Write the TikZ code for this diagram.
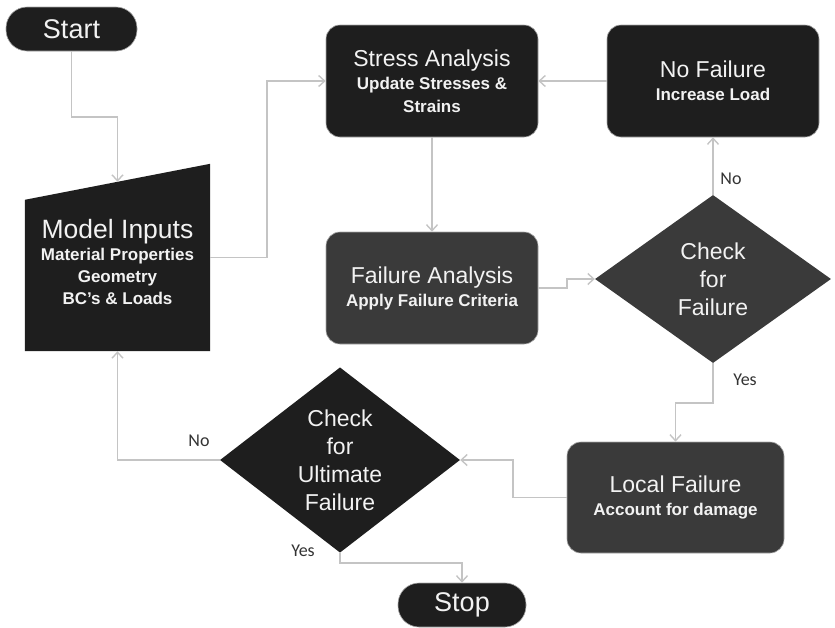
\documentclass[tikz,border=0pt]{standalone}
\usepackage{fontspec}
\setmainfont{Liberation Sans}
\newfontfamily\lblfont{Carlito}
\usetikzlibrary{shapes.geometric,arrows.meta,calc}
\definecolor{dk}{HTML}{1E1E1E}
\definecolor{md}{HTML}{3A3A3A}
\definecolor{ln}{HTML}{C4C4C4}
\definecolor{tx}{HTML}{F2F2F2}
\newcommand{\ttl}[1]{{\fontsize{23}{28}\selectfont\mdseries #1}}
\tikzset{
  x=1pt,y=-1pt,
  box/.style={rectangle,rounded corners=14,draw=gray!70,line width=0.6,minimum width=212,minimum height=112,inner sep=0,text=tx,align=center,font=\fontsize{17}{23}\selectfont\bfseries},
  term/.style={rectangle,rounded corners=21,draw=gray!70,line width=0.6,fill=dk,inner sep=0,text=tx,font=\fontsize{27}{30}\selectfont,minimum height=44},
  dec/.style={diamond,inner sep=0,text=tx,align=center,font=\fontsize{23}{28}\selectfont},
  conn/.style={draw=ln,line width=1.6,-{Straight Barb[length=6,width=11,line width=1.4]}},
  lbl/.style={text=black!80,font=\lblfont\fontsize{18}{20}\selectfont,inner sep=0}
}
\begin{document}
\begin{tikzpicture}
\useasboundingbox (0,0) rectangle (835,627);
% nodes
\node[term,minimum width=131] (start) at (71.5,29) {Start};
\node[term,minimum width=128] (stop) at (462,605) {Stop};
\node[rectangle,minimum width=185,minimum height=187,inner sep=0] (mi) at (117.5,257.5) {};
\fill[dk] (mi.south west) -- (mi.south east) -- (mi.north east) -- ($(mi.north west)+(0,36)$) -- cycle;
\coordinate (mitop) at ($(mi.north)+(0,18)$);
\node[text=tx,align=center,font=\fontsize{17}{22}\selectfont\bfseries] (mitext) at (117.5,262)
  {{\fontsize{26.5}{27}\selectfont\mdseries Model Inputs}\\Material Properties\\Geometry\\BC's \& Loads};
\node[box,fill=dk] (stress) at (432,81) {\ttl{Stress Analysis}\\Update Stresses \&\\Strains};
\node[box,fill=dk] (nofail) at (713,81) {\ttl{No Failure}\\Increase Load};
\node[box,fill=md] (fa) at (432,288) {\ttl{Failure Analysis}\\Apply Failure Criteria};
\node[box,fill=md,minimum width=217,minimum height=111] (lf) at (675.5,497.5) {\ttl{Local Failure}\\Account for damage};
\node[dec,fill=md,minimum width=236,minimum height=168] (chk) at (713,279) {Check\\for\\Failure};
\node[dec,fill=dk,minimum width=240,minimum height=170] (ult) at (340,460) {Check\\for\\Ultimate\\Failure};
% connectors
\draw[conn] (start.south) -- (start.south |- 0,117) -| (mitop);
\draw[conn] (mi.east) -- (267,257.5) |- (stress.west);
\draw[conn] (nofail.west) -- (stress.east);
\draw[conn] (stress.south) -- (fa.north);
\draw[conn] (fa.east) -- (567,288) |- (chk.west);
\draw[conn] (chk.north) -- (nofail.south);
\draw[conn] (chk.south) -- (713,403) -| (lf.north);
\draw[conn] (lf.west) -- (513,497.5) |- (ult.east);
\draw[conn] (ult.west) -| (mi.south);
\draw[conn] (ult.south) -- (340,563) -| (stop.north);
% labels
\node[lbl] (lno1) at (731,179) {No};
\node[lbl] (lyes1) at (745,380) {Yes};
\node[lbl] (lno2) at (199,441) {No};
\node[lbl] (lyes2) at (303,551) {Yes};
\end{tikzpicture}
\end{document}
